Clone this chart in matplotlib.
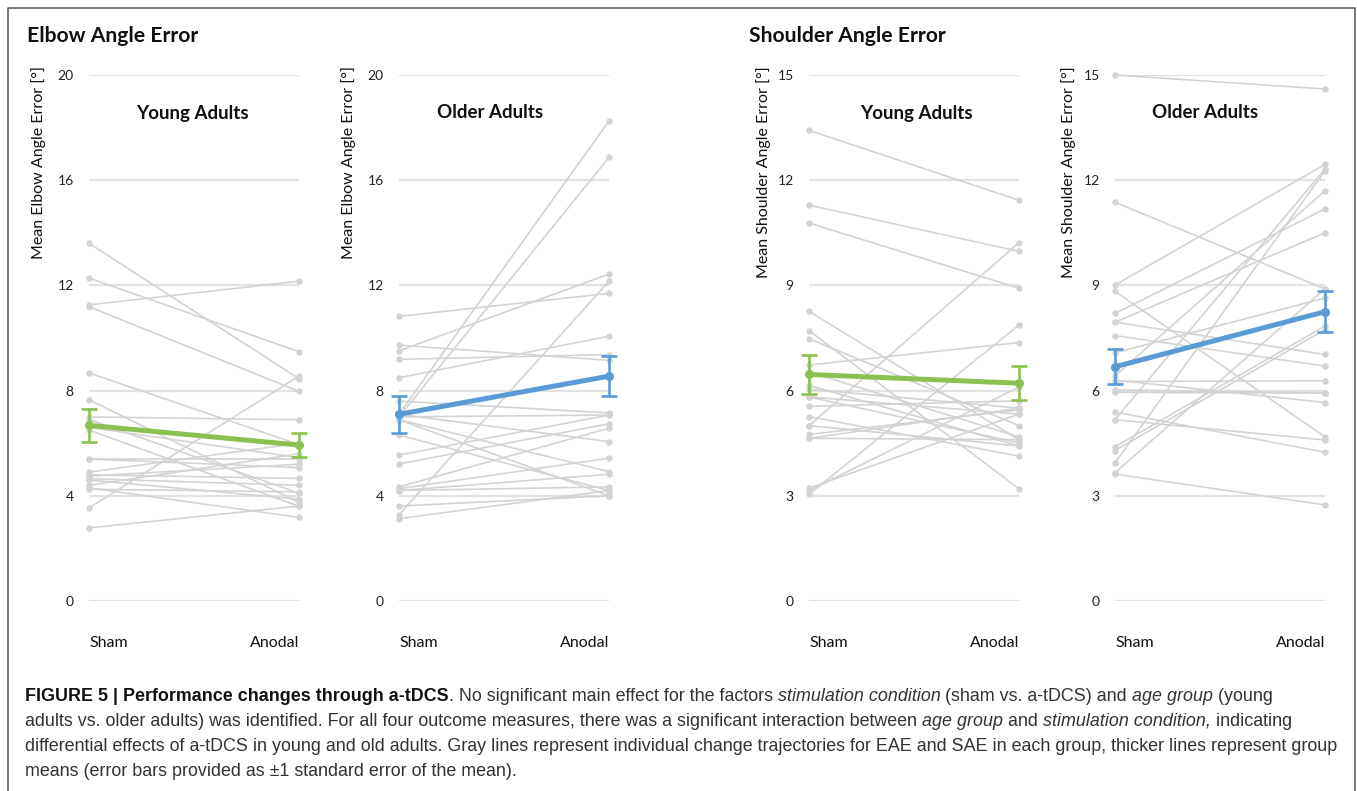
import matplotlib
matplotlib.use("Agg")
import matplotlib.pyplot as plt
from matplotlib.lines import Line2D

# ---------------- data ----------------
conditions = ["Sham", "Anodal"]

young_elbow_sham = [13.6, 12.28, 11.26, 11.19, 8.67, 7.65, 7.0, 6.9, 6.6, 6.5, 5.4, 5.4,
                    4.9, 4.8, 4.75, 4.65, 4.6, 4.4, 4.25, 3.54, 2.78, 4.3]
young_elbow_anodal = [8.45, 9.48, 12.16, 7.97, 5.95, 3.75, 6.89, 4.1, 5.45, 3.6, 5.4, 5.07,
                      6.0, 4.66, 5.2, 4.4, 3.87, 5.6, 4.15, 8.55, 3.61, 3.18]
young_elbow_mean = [6.68, 5.93]
young_elbow_se = [0.63, 0.46]

older_elbow_sham = [7.1, 7.0, 10.82, 9.51, 3.28, 8.49, 9.73, 9.19, 7.6, 7.1, 6.89, 6.89,
                    6.31, 5.55, 5.21, 4.34, 4.27, 4.2, 4.2, 3.61, 3.13, 7.0]
older_elbow_anodal = [18.25, 16.87, 11.7, 12.43, 12.16, 10.07, 9.15, 9.37, 7.15, 6.06, 4.0, 4.92,
                      4.2, 7.07, 6.74, 6.57, 5.43, 4.82, 4.34, 4.0, 4.2, 7.07]
older_elbow_mean = [7.1, 8.55]
older_elbow_se = [0.7, 0.77]

young_shoulder_sham = [13.42, 11.29, 10.78, 8.26, 7.71, 7.48, 6.73, 6.53, 6.15, 6.04, 5.82, 5.82,
                       5.55, 5.26, 5.0, 4.75, 4.64, 3.04, 3.15, 3.22, 5.0, 4.64]
young_shoulder_anodal = [11.43, 9.97, 8.92, 4.6, 3.2, 5.0, 7.37, 4.68, 4.42, 5.5, 5.33, 4.51,
                         5.71, 4.13, 10.22, 5.45, 5.5, 7.87, 6.1, 5.33, 4.42, 4.6]
young_shoulder_mean = [6.46, 6.21]
young_shoulder_se = [0.55, 0.48]

older_shoulder_sham = [15.0, 11.37, 9.01, 8.83, 8.2, 7.95, 7.95, 7.57, 7.08, 6.42, 6.26, 6.02,
                       5.95, 5.39, 5.17, 5.17, 4.4, 4.29, 3.94, 3.66, 3.62, 6.3]
older_shoulder_anodal = [14.6, 8.9, 12.45, 4.68, 11.18, 10.5, 7.03, 6.7, 8.64, 11.7, 6.28, 5.93,
                         5.93, 4.24, 4.59, 12.32, 7.84, 7.74, 12.27, 8.9, 2.74, 5.66]
older_shoulder_mean = [6.68, 8.25]
older_shoulder_se = [0.5, 0.58]

elbow_ticks = [0, 4, 8, 12, 16, 20]
shoulder_ticks = [0, 3, 6, 9, 12, 15]

section_titles = ["Elbow Angle Error", "Shoulder Angle Error"]
panel_titles = ["Young Adults", "Older Adults", "Young Adults", "Older Adults"]
ylabels = ["Mean Elbow Angle Error [°]", "Mean Elbow Angle Error [°]",
           "Mean Shoulder Angle Error [°]", "Mean Shoulder Angle Error [°]"]

# ---------------- style ----------------
W, H = 1357, 791
GRAY = "#d3d3d3"
GRID = "#e2e2e2"
GREEN = "#8cc152"
BLUE = "#5b9bd5"
FONT = "Lato"

fig = plt.figure(figsize=(W / 100, H / 100), dpi=100)
fig.patch.set_facecolor("white")


def fx(px):
    return px / W


def fy(py):
    return 1 - py / H


panels = [
    dict(x0=89, x1=299, sham=young_elbow_sham, anodal=young_elbow_anodal,
         mean=young_elbow_mean, se=young_elbow_se, ticks=elbow_ticks, color=GREEN,
         title_x=192, ylab_x=39),
    dict(x0=399, x1=609, sham=older_elbow_sham, anodal=older_elbow_anodal,
         mean=older_elbow_mean, se=older_elbow_se, ticks=elbow_ticks, color=BLUE,
         title_x=490, ylab_x=349),
    dict(x0=809, x1=1019, sham=young_shoulder_sham, anodal=young_shoulder_anodal,
         mean=young_shoulder_mean, se=young_shoulder_se, ticks=shoulder_ticks, color=GREEN,
         title_x=916, ylab_x=764),
    dict(x0=1115, x1=1325, sham=older_shoulder_sham, anodal=older_shoulder_anodal,
         mean=older_shoulder_mean, se=older_shoulder_se, ticks=shoulder_ticks, color=BLUE,
         title_x=1205, ylab_x=1069),
]

y_top, y_bot = 75, 601

for i, p in enumerate(panels):
    ax = fig.add_axes([fx(p["x0"]), fy(y_bot), fx(p["x1"] - p["x0"]), (y_bot - y_top) / H])
    for s, a in zip(p["sham"], p["anodal"]):
        ax.plot(conditions, [s, a], color=GRAY, lw=1.2, marker="o", ms=3.6,
                clip_on=False, zorder=2)
    ax.errorbar(conditions, p["mean"], yerr=p["se"], color=p["color"], lw=3.6,
                elinewidth=1.9, capsize=5.5, capthick=1.9, marker="o", ms=5.5,
                clip_on=False, zorder=4)
    ax.set_xlim(0, 1)
    ax.set_ylim(p["ticks"][0], p["ticks"][-1])
    ax.set_yticks(p["ticks"])
    ax.set_yticklabels([str(t) for t in p["ticks"]], fontsize=10, family=FONT, color="#222222")
    ax.yaxis.grid(True, color=GRID, lw=1.6, zorder=0)
    ax.set_axisbelow(True)
    ax.tick_params(axis="y", length=0, pad=11)
    ax.tick_params(axis="x", length=0, pad=25)
    for lab, ha in zip(ax.get_xticklabels(), ["left", "right"]):
        lab.set_ha(ha)
        lab.set_fontsize(11.5)
        lab.set_family(FONT)
        lab.set_color("#111111")
    for sp in ax.spines.values():
        sp.set_visible(False)
    ax.patch.set_alpha(0)
    fig.text(fx(p["title_x"]), fy(113), panel_titles[i], ha="center", va="center",
             fontsize=13.5, fontweight="bold", family=FONT, color="#111111")
    fig.text(fx(p["ylab_x"]), fy(66), ylabels[i], rotation=90, ha="center", va="top",
             fontsize=11.5, family=FONT, color="#111111")

fig.text(fx(27), fy(36), section_titles[0], ha="left", va="center", fontsize=15.2,
         fontweight="bold", family=FONT, color="#111111")
fig.text(fx(749), fy(36), section_titles[1], ha="left", va="center", fontsize=15.2,
         fontweight="bold", family=FONT, color="#111111")

# frame
frame_col = "#555555"
fig.add_artist(Line2D([fx(8), fx(8), fx(1355), fx(1355)], [0, fy(8), fy(8), 0],
                      transform=fig.transFigure, color=frame_col, lw=1.1))

# ---------------- caption ----------------
caption_lines = [
    [("FIGURE 5 | Performance changes through a-tDCS", "bold"),
     (". No significant main effect for the factors ", "normal"),
     ("stimulation condition", "italic"),
     (" (sham vs. a-tDCS) and ", "normal"),
     ("age group", "italic"),
     (" (young", "normal")],
    [("adults vs. older adults) was identified. For all four outcome measures, there was a significant interaction between ", "normal"),
     ("age group", "italic"),
     (" and ", "normal"),
     ("stimulation condition,", "italic"),
     (" indicating", "normal")],
    [("differential effects of a-tDCS in young and old adults. Gray lines represent individual change trajectories for EAE and SAE in each group, thicker lines represent group", "normal")],
    [("means (error bars provided as \u00b11 standard error of the mean).", "normal")],
]
caption_baseline = [701, 726, 751, 776]
CAP_FONT = "Liberation Sans"
CAP_SIZE = 12.9

fig.canvas.draw()
renderer = fig.canvas.get_renderer()
for line, ypx in zip(caption_lines, caption_baseline):
    xpx = 25
    for txt, style in line:
        kw = dict(fontsize=CAP_SIZE, family=CAP_FONT, va="baseline", ha="left")
        if style == "bold":
            kw.update(fontweight="bold", color="#111111")
        elif style == "italic":
            kw.update(fontstyle="italic", color="#333333")
        else:
            kw.update(color="#333333")
        t = fig.text(fx(xpx), fy(ypx), txt, **kw)
        bb = t.get_window_extent(renderer=renderer)
        xpx += bb.width

fig.savefig("out.png", dpi=100, facecolor="white")
